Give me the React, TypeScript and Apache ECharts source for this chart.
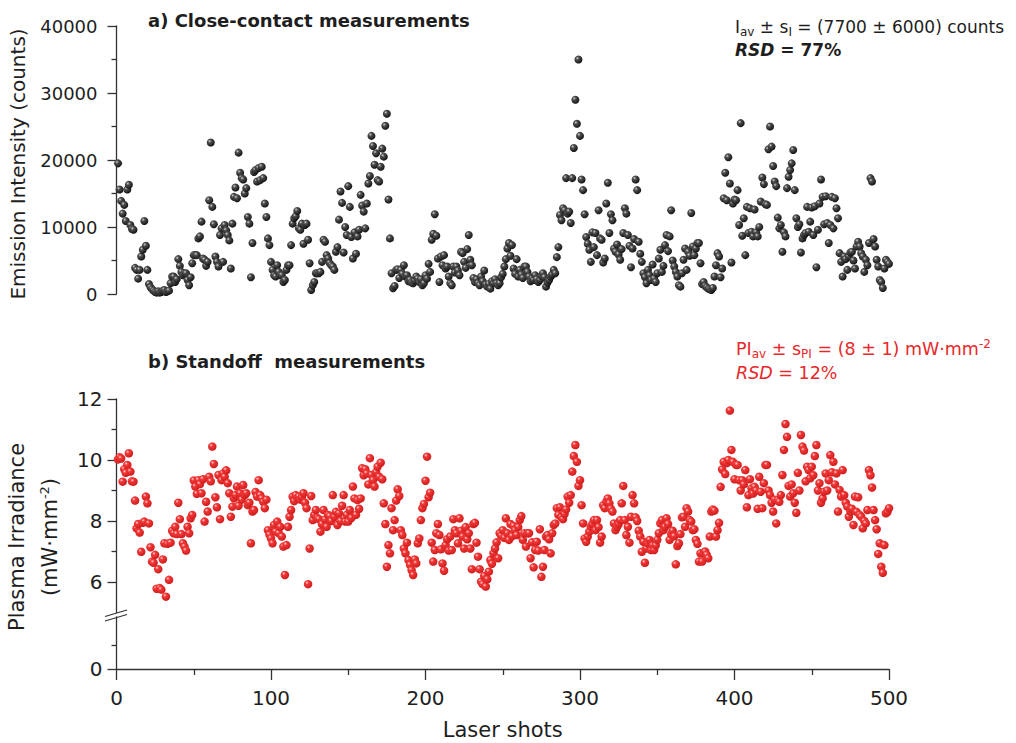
import React, { useEffect, useRef } from "react";
import * as echarts from "echarts";

// Laser shot numbers (1..500)
const shots: number[] = Array.from({ length: 500 }, (_, i) => i + 1);

// a) Close-contact emission intensity (counts), one value per shot
const intensity: number[] = [
  19500, 15600, 13900, 12000, 13300, 10900, 15600, 16300, 10300, 9700,
  9600, 3900, 3600, 2300, 3600, 5600, 6600, 10900, 7200, 3600,
  1500, 1000, 700, 500, 300, 200, 400, 200, 300, 500,
  600, 300, 400, 500, 1600, 2600, 2600, 1800, 2200, 5200,
  4200, 3300, 2800, 3100, 3100, 2100, 1300, 2500, 4600, 5800,
  5800, 5800, 8300, 8600, 10800, 5300, 5100, 4200, 4800, 14000,
  22600, 13000, 10400, 5600, 4800, 4100, 8800, 9800, 4800, 10300,
  9500, 8800, 8000, 3800, 10500, 14500, 15900, 14300, 21100, 18100,
  17300, 17100, 15000, 15800, 11500, 10500, 2500, 7600, 18200, 18500,
  16800, 18800, 17000, 19000, 17300, 13500, 11500, 8300, 7300, 4800,
  3600, 2800, 2600, 4300, 3300, 2800, 2800, 1800, 2100, 3600,
  4300, 4300, 7300, 10500, 11300, 11600, 12400, 9800, 9600, 10500,
  7500, 10300, 10500, 8100, 4600, 600, 1300, 1800, 3100, 3100,
  3100, 3300, 4800, 8100, 7800, 5800, 5300, 4600, 4300, 4100,
  3600, 6300, 7000, 11100, 15300, 13600, 6200, 10000, 8800, 16100,
  13000, 8500, 5300, 9200, 6000, 8600, 9600, 14800, 13200, 12300,
  9800, 13500, 16500, 17600, 23600, 22100, 19300, 21000, 17000, 16800,
  19000, 21700, 20500, 25100, 26900, 14100, 8300, 3100, 850, 1200,
  3600, 3700, 2400, 3600, 3000, 4300, 2600, 2800, 1900, 2100,
  1700, 1600, 2000, 2600, 2300, 1800, 2200, 1300, 1600, 2800,
  2300, 4500, 3300, 8100, 9000, 11900, 8700, 5300, 1800, 5600,
  4300, 5800, 3800, 4100, 2600, 1600, 1300, 4100, 3200, 4100,
  3500, 2800, 6300, 6100, 4800, 3900, 6700, 8800, 5100, 4300,
  2400, 1800, 2200, 1600, 1300, 2600, 1900, 3500, 1400, 1100,
  1500, 800, 1900, 1600, 2200, 1600, 1300, 1600, 2500, 3000,
  4100, 5200, 6800, 7600, 5700, 7300, 3800, 3000, 5200, 2600,
  3600, 2900, 2400, 4100, 4100, 3300, 2600, 1900, 2300, 2100,
  2800, 2200, 1800, 2100, 2700, 3100, 2500, 1100, 1700, 2100,
  2600, 2900, 3600, 3100, 5500, 7000, 11800, 11000, 12800, 12500,
  17300, 12000, 12300, 10600, 17300, 21800, 29000, 25400, 35000, 23600,
  17100, 15500, 11900, 8500, 7500, 6600, 4800, 9200, 7000, 9100,
  5800, 12500, 8300, 8100, 4700, 5300, 13500, 16600, 9100, 11900,
  11000, 6800, 6300, 7400, 5900, 5100, 6700, 9100, 12800, 12000,
  8800, 7200, 4000, 6800, 8200, 17100, 15500, 7800, 6000, 4800,
  3100, 2500, 1600, 3600, 2800, 2100, 4400, 2300, 1800, 3100,
  5300, 6600, 3300, 4200, 7300, 8800, 6400, 8600, 12500, 5000,
  4100, 3300, 2600, 1300, 1100, 3100, 5100, 6800, 3600, 6300,
  5700, 12100, 7100, 5800, 6800, 7600, 7600, 4600, 1500, 1800,
  1200, 1000, 800, 700, 600, 900, 2600, 4300, 6100, 5600,
  2500, 3800, 14300, 18100, 14000, 20400, 16500, 4700, 13500, 14100,
  14000, 15500, 10300, 25500, 8700, 11300, 5800, 13000, 9100, 12800,
  9300, 8600, 12600, 9200, 8600, 10000, 13800, 17400, 16400, 13400,
  13300, 21600, 25000, 22000, 19100, 16800, 16100, 11400, 9800, 10300,
  6300, 9200, 8600, 15800, 17500, 18500, 19500, 21500, 15500, 11300,
  10000, 10400, 6200, 8300, 8800, 9100, 13000, 9300, 10800, 12900,
  8800, 13100, 4000, 9600, 13500, 17100, 14500, 10400, 14600, 10600,
  7600, 10300, 14500, 9800, 14300, 12800, 11300, 6100, 4800, 2600,
  5600, 5200, 3600, 5600, 6200, 6300, 5000, 3800, 7100, 7800,
  7100, 6100, 5600, 3300, 5100, 4300, 7600, 17300, 16800, 8200,
  7100, 5100, 4100, 2100, 1800, 900, 3800, 5100, 4800, 4500,
];

// b) Standoff plasma irradiance (mW·mm^-2), one value per shot
const irradiance: number[] = [
  10.02, 10.09, 10.05, 9.29, 9.70, 9.58, 9.84, 10.22, 9.62, 9.30,
  9.29, 8.67, 7.76, 7.90, 7.62, 6.99, 7.94, 7.98, 8.80, 8.58,
  7.92, 7.14, 6.67, 6.63, 6.89, 5.78, 6.42, 5.80, 5.75, 6.74,
  7.27, 5.52, 7.25, 6.07, 7.29, 7.68, 7.60, 7.81, 7.57, 8.60,
  8.06, 7.57, 7.27, 7.16, 7.03, 7.81, 7.60, 8.09, 8.20, 9.33,
  9.13, 8.89, 9.34, 9.21, 8.91, 9.37, 7.98, 8.63, 8.31, 9.45,
  9.30, 10.44, 9.87, 8.78, 8.45, 9.51, 8.06, 9.34, 9.56, 9.45,
  9.66, 9.24, 8.91, 8.14, 8.47, 8.74, 8.85, 9.13, 8.50, 8.91,
  8.70, 9.18, 8.85, 8.91, 8.52, 8.60, 7.27, 8.31, 8.36, 8.95,
  8.80, 9.34, 8.85, 8.74, 8.63, 8.42, 8.70, 7.70, 7.55, 7.43,
  7.27, 7.87, 7.65, 7.98, 7.60, 7.81, 7.49, 7.16, 6.23, 7.21,
  7.81, 8.14, 8.36, 8.80, 8.65, 8.85, 8.75, 8.80, 8.70, 8.78,
  8.91, 8.60, 8.42, 5.93, 7.10, 8.82, 8.03, 8.20, 8.36, 8.10,
  8.06, 7.65, 7.90, 8.36, 8.05, 7.81, 8.20, 8.16, 8.00, 8.85,
  8.14, 8.30, 7.87, 8.25, 8.00, 8.50, 8.85, 7.98, 8.20, 7.98,
  8.36, 8.10, 9.13, 8.74, 8.20, 8.69, 8.40, 8.74, 9.73, 9.50,
  9.70, 9.56, 9.20, 10.06, 9.51, 9.34, 9.13, 9.60, 9.78, 9.45,
  9.91, 9.37, 8.58, 7.90, 6.50, 7.21, 6.94, 8.42, 7.70, 8.03,
  8.67, 9.04, 8.82, 7.70, 7.54, 7.10, 6.94, 7.29, 6.72, 6.56,
  6.39, 6.23, 6.74, 6.61, 7.27, 7.43, 8.03, 8.42, 8.56, 9.32,
  10.11, 8.78, 8.93, 7.29, 6.67, 7.05, 7.60, 7.90, 7.54, 7.07,
  6.61, 6.37, 7.21, 7.40, 7.03, 7.49, 7.05, 8.06, 7.70, 7.60,
  7.27, 8.09, 7.68, 7.49, 7.10, 7.80, 7.40, 7.60, 7.10, 6.42,
  7.90, 7.94, 7.29, 6.83, 6.42, 6.01, 5.93, 6.20, 5.85, 6.09,
  6.34, 6.72, 6.60, 6.94, 7.10, 7.30, 6.78, 7.60, 7.52, 7.70,
  7.45, 8.09, 7.60, 7.38, 7.90, 7.50, 7.84, 7.70, 7.54, 7.80,
  8.03, 8.16, 7.38, 7.60, 7.16, 7.60, 7.60, 6.78, 7.30, 6.48,
  7.05, 7.32, 7.03, 7.73, 6.17, 6.50, 7.05, 7.49, 7.54, 7.40,
  6.94, 7.60, 7.87, 7.92, 8.42, 8.20, 8.45, 8.12, 8.06, 8.23,
  8.38, 8.80, 8.60, 8.85, 9.62, 10.13, 10.49, 9.94, 9.15, 9.34,
  8.52, 7.92, 7.43, 7.32, 7.49, 7.65, 7.81, 7.90, 8.03, 7.70,
  8.03, 7.80, 7.29, 7.49, 8.52, 8.42, 8.63, 8.74, 8.58, 8.40,
  8.31, 7.92, 7.70, 7.81, 7.90, 8.03, 8.58, 9.15, 8.03, 7.54,
  7.81, 7.29, 8.14, 8.85, 8.58, 8.12, 8.00, 7.68, 7.49, 6.99,
  7.32, 6.63, 7.10, 7.27, 7.38, 7.05, 7.20, 7.05, 7.20, 7.38,
  7.60, 7.92, 8.03, 7.70, 7.81, 8.09, 7.90, 7.38, 7.57, 7.68,
  7.50, 6.58, 7.18, 7.27, 7.57, 8.12, 8.14, 7.81, 8.42, 8.31,
  8.03, 7.98, 7.70, 7.73, 7.38, 7.25, 6.67, 6.94, 6.67, 6.94,
  7.00, 6.89, 6.78, 7.49, 8.31, 8.38, 8.34, 7.49, 7.70, 7.94,
  9.12, 9.69, 9.94, 9.54, 9.90, 10.00, 11.62, 10.33, 9.94, 9.37,
  9.84, 9.84, 9.34, 9.00, 9.34, 9.20, 9.67, 8.45, 8.85, 9.37,
  9.07, 8.90, 9.12, 9.00, 8.40, 9.45, 8.96, 8.42, 9.24, 9.84,
  9.84, 9.00, 8.85, 8.60, 8.31, 8.70, 7.92, 8.69, 8.63, 8.85,
  9.51, 10.33, 11.18, 10.76, 9.15, 8.80, 9.20, 8.91, 8.60, 8.27,
  9.58, 9.00, 10.82, 10.44, 10.31, 9.30, 9.78, 9.67, 9.40, 9.78,
  9.50, 10.13, 10.49, 9.00, 9.24, 8.60, 8.74, 8.96, 9.56, 9.00,
  9.34, 10.16, 9.60, 9.94, 9.20, 9.56, 8.31, 9.02, 8.80, 9.67,
  8.85, 8.60, 8.47, 8.14, 8.31, 8.40, 7.87, 8.80, 8.30, 8.78,
  8.20, 8.14, 7.76, 8.00, 7.92, 8.36, 9.67, 9.50, 9.10, 8.36,
  8.03, 7.73, 6.92, 7.27, 6.50, 6.30, 7.21, 8.25, 8.30, 8.42,
];

// Tick values
const upperMajorTicks = [6, 8, 10, 12];
const upperMinorTicks = [7, 9, 11];
const lowerMajorTicks = [0];
const lowerMinorTicks = [1];

const FONT = "DejaVu Sans";
const AXIS = "#333333";
const TXT = "#1e1e1e";
const RED = "#e8282b";

const blackBall = {
  type: "radial", x: 0.36, y: 0.33, r: 0.72,
  colorStops: [
    { offset: 0, color: "#d4d4d4" },
    { offset: 0.28, color: "#505050" },
    { offset: 1, color: "#0e0e0e" },
  ],
};
const redBall = {
  type: "radial", x: 0.36, y: 0.33, r: 0.72,
  colorStops: [
    { offset: 0, color: "#ffd6d6" },
    { offset: 0.28, color: "#f23838" },
    { offset: 1, color: "#cc1a1a" },
  ],
};

const lineStyle = { color: AXIS, width: 1.3 };
const plain = (v: number) => String(v);

export default function App() {
  const ref = useRef<HTMLDivElement>(null);

  useEffect(() => {
    if (!ref.current) return;
    const chart = echarts.init(ref.current, null, { renderer: "svg" });

    const L = 116.5;
    const W = 772.5;

    const option: any = {
      animation: false,
      backgroundColor: "#ffffff",
      textStyle: { fontFamily: FONT },
      grid: [
        { left: L, width: W, top: 26, height: 268, outerBoundsMode: "none" },
        { left: L, width: W, top: 399, height: 213.5, outerBoundsMode: "none" },
        { left: L, width: W, top: 617, height: 52, outerBoundsMode: "none" },
      ],
      xAxis: [
        { gridIndex: 0, type: "value", min: 0, max: 500, show: false },
        { gridIndex: 1, type: "value", min: 0, max: 500, show: false },
        {
          gridIndex: 2, type: "value", min: 0, max: 500, interval: 100,
          axisLine: { show: true, lineStyle },
          axisTick: { show: true, length: 11, lineStyle },
          minorTick: { show: true, splitNumber: 2, length: 6, lineStyle },
          splitLine: { show: false },
          axisLabel: { fontSize: 20, fontFamily: FONT, color: TXT, margin: 19, formatter: plain },
          name: "Laser shots",
          nameLocation: "middle",
          nameGap: 50,
          nameTextStyle: { fontSize: 21, fontFamily: FONT, color: TXT },
        },
      ],
      yAxis: [
        {
          gridIndex: 0, type: "value", min: 0, max: 40000, interval: 10000,
          position: "left",
          axisLine: { show: true, lineStyle },
          axisTick: { show: true, length: 9, lineStyle },
          minorTick: { show: true, splitNumber: 2, length: 5, lineStyle },
          splitLine: { show: false },
          axisLabel: { fontSize: 18, fontFamily: FONT, color: TXT, margin: 19, formatter: plain },
        },
        {
          gridIndex: 1, type: "value", min: 5, max: 12,
          position: "left",
          axisLine: { show: true, lineStyle },
          axisTick: { show: true, length: 9, lineStyle, customValues: upperMajorTicks },
          splitLine: { show: false },
          axisLabel: { fontSize: 20, fontFamily: FONT, color: TXT, margin: 14, customValues: upperMajorTicks, formatter: plain },
        },
        {
          gridIndex: 1, type: "value", min: 5, max: 12,
          position: "left",
          axisLine: { show: false },
          axisTick: { show: true, length: 5, lineStyle, customValues: upperMinorTicks },
          splitLine: { show: false },
          axisLabel: { show: false },
        },
        {
          gridIndex: 2, type: "value", min: 0, max: 2.2,
          position: "left",
          axisLine: { show: true, lineStyle },
          axisTick: { show: true, length: 9, lineStyle, customValues: lowerMajorTicks },
          splitLine: { show: false },
          axisLabel: { fontSize: 20, fontFamily: FONT, color: TXT, margin: 14, customValues: lowerMajorTicks, formatter: plain },
        },
        {
          gridIndex: 2, type: "value", min: 0, max: 2.2,
          position: "left",
          axisLine: { show: false },
          axisTick: { show: true, length: 5, lineStyle, customValues: lowerMinorTicks },
          splitLine: { show: false },
          axisLabel: { show: false },
        },
      ],
      series: [
        {
          type: "scatter", xAxisIndex: 0, yAxisIndex: 0,
          symbol: "circle", symbolSize: 8,
          itemStyle: { color: blackBall, opacity: 1 },
          data: shots.map((s, i) => [s, intensity[i]]),
        },
        {
          type: "scatter", xAxisIndex: 1, yAxisIndex: 1,
          symbol: "circle", symbolSize: 8.5,
          itemStyle: { color: redBall, opacity: 1 },
          data: shots.map((s, i) => [s, irradiance[i]]),
        },
      ],
      graphic: [
        // axis break marks
        { type: "line", shape: { x1: 105, y1: 616.5, x2: 127, y2: 610 }, style: { stroke: AXIS, lineWidth: 1.2 } },
        { type: "line", shape: { x1: 105, y1: 621, x2: 127, y2: 614.5 }, style: { stroke: AXIS, lineWidth: 1.2 } },
        // panel titles
        {
          type: "text", x: 148, y: 20,
          style: { text: "a) Close-contact measurements", fill: TXT, font: `bold 18px "${FONT}"`, textAlign: "left", textVerticalAlign: "middle" },
        },
        {
          type: "text", x: 148, y: 361,
          style: { text: "b) Standoff  measurements", fill: TXT, font: `bold 18px "${FONT}"`, textAlign: "left", textVerticalAlign: "middle" },
        },
        // annotations top
        {
          type: "text", x: 735, y: 27,
          style: {
            text: "{n|I}{s|av}{n| ± s}{s|I}{n| = (7700 ± 6000) counts}",
            textAlign: "left", textVerticalAlign: "middle",
            rich: {
              n: { fontSize: 17, fontFamily: FONT, fill: TXT },
              s: { fontSize: 12, fontFamily: FONT, fill: TXT, padding: [10, 0, 0, 0] },
            },
          },
        },
        {
          type: "text", x: 735, y: 50,
          style: {
            text: "{i|RSD}{n| = 77%}",
            textAlign: "left", textVerticalAlign: "middle",
            rich: {
              i: { fontSize: 17, fontFamily: FONT, fill: TXT, fontWeight: "bold", fontStyle: "italic" },
              n: { fontSize: 17, fontFamily: FONT, fill: TXT, fontWeight: "bold" },
            },
          },
        },
        // annotations bottom
        {
          type: "text", x: 736, y: 349,
          style: {
            text: "{n|PI}{s|av}{n| ± s}{s|PI}{n| = (8 ± 1) mW·mm}{p|-2}",
            textAlign: "left", textVerticalAlign: "middle",
            rich: {
              n: { fontSize: 17.5, fontFamily: FONT, fill: RED },
              s: { fontSize: 12, fontFamily: FONT, fill: RED, padding: [10, 0, 0, 0] },
              p: { fontSize: 12, fontFamily: FONT, fill: RED, padding: [0, 0, 10, 0] },
            },
          },
        },
        {
          type: "text", x: 736, y: 373,
          style: {
            text: "{i|RSD}{n| = 12%}",
            textAlign: "left", textVerticalAlign: "middle",
            rich: {
              i: { fontSize: 17.5, fontFamily: FONT, fill: RED, fontStyle: "italic" },
              n: { fontSize: 17.5, fontFamily: FONT, fill: RED },
            },
          },
        },
        // y axis titles
        {
          type: "text", x: 18, y: 164, rotation: Math.PI / 2,
          style: { text: "Emission Intensity (counts)", fill: TXT, font: `20px "${FONT}"`, textAlign: "center", textVerticalAlign: "middle" },
        },
        {
          type: "text", x: 17, y: 537, rotation: Math.PI / 2,
          style: { text: "Plasma Irradiance", fill: TXT, font: `21px "${FONT}"`, textAlign: "center", textVerticalAlign: "middle" },
        },
        {
          type: "text", x: 50, y: 537, rotation: Math.PI / 2,
          style: {
            text: "{n|(mW·mm}{p|-2}{n|)}",
            textAlign: "center", textVerticalAlign: "middle",
            rich: {
              n: { fontSize: 21, fontFamily: FONT, fill: TXT },
              p: { fontSize: 13, fontFamily: FONT, fill: TXT, padding: [0, 0, 11, 0] },
            },
          },
        },
      ],
    };

    chart.setOption(option);
    return () => chart.dispose();
  }, []);

  return (
    <div
      ref={ref}
      style={{ position: "absolute", left: 0, top: 0, width: 1016, height: 743, background: "#fff" }}
    />
  );
}
